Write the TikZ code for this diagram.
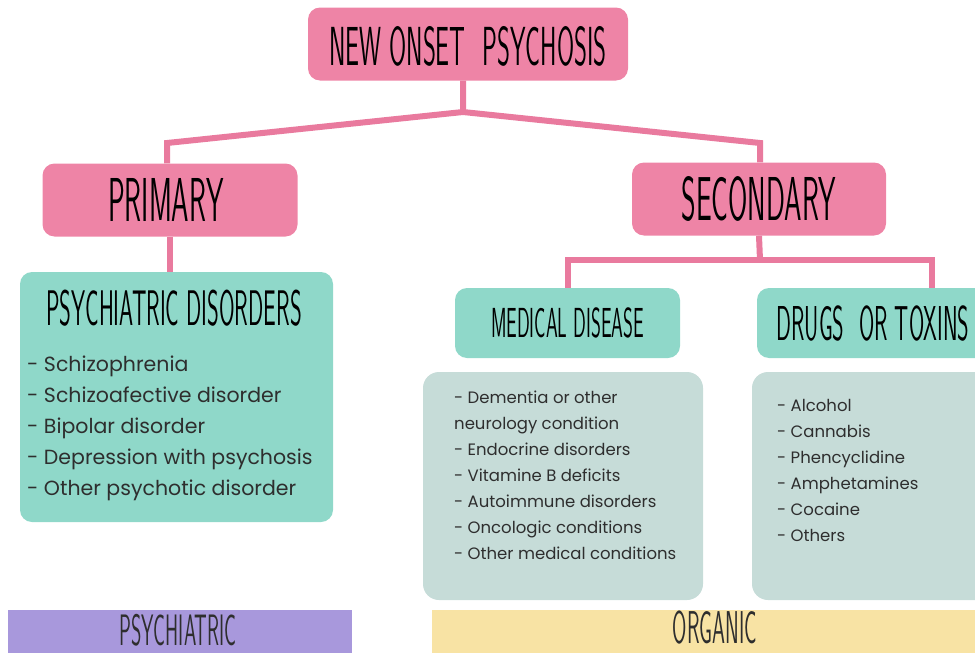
\documentclass[tikz,border=0pt]{standalone}
\usepackage{fontspec}
\setmainfont{Poppins}
\newfontfamily\hand[FakeStretch=0.45]{Latin Modern Sans}
\usepackage{xcolor}
\usepackage{tikz}
\usetikzlibrary{positioning}

\definecolor{rosa}{HTML}{EE84A6}
\definecolor{rosaline}{HTML}{E97A9E}
\definecolor{menta}{HTML}{8FD8C9}
\definecolor{gris}{HTML}{C6DCD8}
\definecolor{lila}{HTML}{A898DC}
\definecolor{crema}{HTML}{F8E3A4}
\definecolor{tinta}{HTML}{2E2E2E}

\begin{document}
\begin{tikzpicture}[x=1pt, y=-1pt,
  pinkbox/.style={fill=rosa, rounded corners=12pt, minimum height=73pt, inner sep=0pt},
  greenbox/.style={fill=menta, rounded corners=12pt, inner sep=0pt},
  listbox/.style={fill=gris, rounded corners=16pt, inner sep=0pt},
  title/.style={font=\hand, text=black, inner sep=0pt},
  items/.style={anchor=north west, align=left, text=tinta, inner sep=0pt},
  link/.style={draw=rosaline, line width=6pt}]
\useasboundingbox (0,0) rectangle (975,653);
% cajas principales
\node[pinkbox, minimum width=320pt] (onset) at (468,44) {};
\node[title, font=\hand\fontsize{55}{55}\selectfont] at (468,46) {NEW ONSET\, PSYCHOSIS};
\node[pinkbox, minimum width=255pt] (prim) at (170,200) {};
\node[title, font=\hand\fontsize{62}{62}\selectfont] at (166,200) {PRIMARY};
\node[pinkbox, minimum width=254pt] (sec) at (759,199) {};
\node[title, font=\hand\fontsize{62}{62}\selectfont] at (sec) {SECONDARY};
% ramas
\coordinate (split) at (463,112);
\coordinate (lk) at (167,143);
\coordinate (rk) at (760,143);
\draw[link] (onset.south -| split) -- (split) -- (lk) -- (lk |- prim.north);
\draw[link] (split) -- (rk) -- (rk |- sec.north);
% primaria
\node[greenbox, minimum width=313pt, minimum height=250pt] (psy) at (176.5,397) {};
\draw[link] (prim.south) -- (prim.south |- psy.north);
\node[title, font=\hand\fontsize{50}{50}\selectfont] at (174,308) {PSYCHIATRIC DISORDERS};
\node[items, font=\fontsize{20.5}{31}\selectfont] (psylist) at (27,356) {- Schizophrenia\\- Schizoafective disorder\\- Bipolar disorder\\- Depression with psychosis\\- Other psychotic disorder};
% secundaria
\node[greenbox, minimum width=225pt, minimum height=70pt] (med) at (567.5,323) {};
\node[title, font=\hand\fontsize{42}{42}\selectfont] at (med) {MEDICAL DISEASE};
\node[greenbox, minimum width=240pt, minimum height=70pt] (drug) at (877,323) {};
\node[title, font=\hand\fontsize{49}{49}\selectfont] at (873,323) {DRUGS\, OR TOXINS};
\coordinate (sj) at (760,260);
\coordinate (dk) at (932,260);
\draw[link] (sec.south) -- (sj);
\draw[link] (med.north) -- (med.north |- sj) -- (dk) -- (dk |- drug.north);
\node[listbox, minimum width=280pt, minimum height=228pt] (medbox) at (563,486) {};
\node[items, font=\fontsize{16.5}{26}\selectfont] (medlist) at (454,391) {- Dementia or other\\neurology condition\\- Endocrine disorders\\- Vitamine B deficits\\- Autoimmune disorders\\- Oncologic conditions\\- Other medical conditions};
\node[listbox, minimum width=240pt, minimum height=228pt] (drugbox) at (872,486) {};
\node[items, font=\fontsize{16.5}{26}\selectfont] (druglist) at (777,399) {- Alcohol\\- Cannabis\\- Phencyclidine\\- Amphetamines\\- Cocaine\\- Others};
% barras inferiores
\node[fill=lila, minimum width=344pt, minimum height=60pt, inner sep=0pt] (barpsy) at (180,640) {};
\node[title, text=tinta, font=\hand\fontsize{44}{44}\selectfont] at (178,630) {PSYCHIATRIC};
\node[fill=crema, minimum width=560pt, minimum height=60pt, inner sep=0pt] (barorg) at (712,640) {};
\node[title, text=tinta, font=\hand\fontsize{46}{46}\selectfont] at (715,628) {ORGANIC};
\end{tikzpicture}
\end{document}
